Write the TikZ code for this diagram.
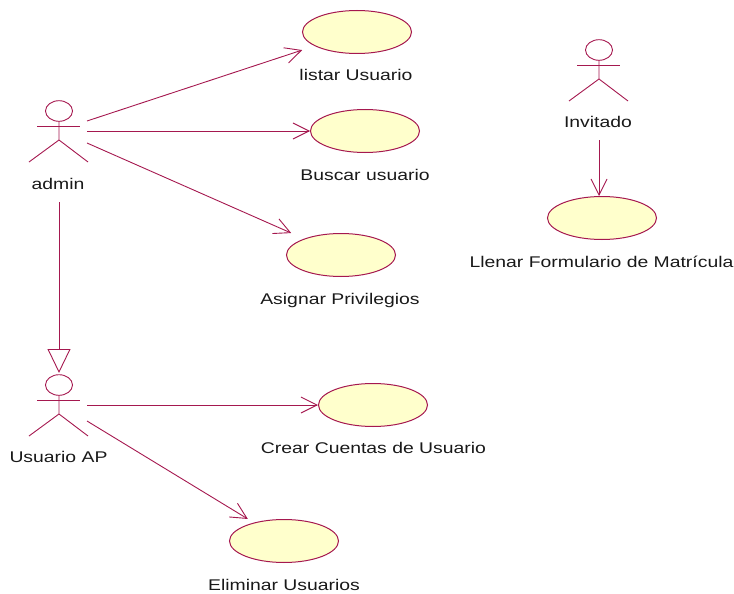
\documentclass[tikz,border=0pt]{standalone}
\usepackage{fontspec}
\setmainfont[FakeStretch=1.25]{Liberation Sans}
\usetikzlibrary{arrows.meta,shapes.geometric}
\definecolor{umlline}{HTML}{A5184F}
\definecolor{umlfill}{HTML}{FFFFCC}
\tikzset{
  usecase/.style={ellipse,draw=umlline,fill=umlfill,line width=1pt,minimum width=109pt,minimum height=43pt,inner sep=0pt},
  lbl/.style={font=\fontsize{15.5pt}{18pt}\selectfont,text=black!90,inner sep=0pt,anchor=base},
  actorbox/.style={rectangle,minimum width=58pt,minimum height=61pt,inner sep=0pt},
  assoc/.style={draw=umlline,line width=0.9pt,-{Straight Barb[length=16pt,width=16pt,line width=0.9pt]}},
  gen/.style={draw=umlline,line width=0.9pt,-{Triangle[open,fill=white,length=24pt,width=23pt,line width=0.9pt]}},
  stick/.style={draw=umlline,line width=0.9pt}
}
\newcommand{\stickman}[1]{%
  \draw[stick] (#1)+(0,-20) ellipse [x radius=13.5,y radius=10.3];
  \draw[stick] (#1)+(-22,-5) -- +(21,-5);
  \draw[stick] (#1)+(0,-10) -- +(0,9) +(-30,31) -- +(0,9) -- +(29,31);
}
\begin{document}
\begin{tikzpicture}[x=1pt,y=-1pt]
\useasboundingbox (0,0) rectangle (734,594);
\node[usecase] (listar) at (357,32) {};
\node[usecase] (buscar) at (365,131) {};
\node[usecase] (asignar) at (341,255) {};
\node[usecase] (crear) at (373,405) {};
\node[usecase] (eliminar) at (284,541) {};
\node[usecase] (llenar) at (602,218) {};
\node[actorbox] (admin) at (59,131) {};
\node[actorbox] (uap) at (59,405) {};
\node[actorbox] (inv) at (599,70) {};
\stickman{admin.center}
\stickman{uap.center}
\stickman{inv.center}
\node[lbl] (ladmin) at (58,189) {admin};
\node[lbl] (luap) at (58.5,462) {Usuario AP};
\node[lbl] (linv) at (598,127) {Invitado};
\node[lbl] (llistar) at (356,81) {listar Usuario};
\node[lbl] (lbuscar) at (365,180) {Buscar usuario};
\node[lbl] (lasignar) at (340,304) {Asignar Privilegios};
\node[lbl] (lcrear) at (373.5,453) {Crear Cuentas de Usuario};
\node[lbl] (leliminar) at (284,590) {Eliminar Usuarios};
\node[lbl] (lllenar) at (601.5,267) {Llenar Formulario de Matrícula};
\coordinate (a1) at (87,121);
\coordinate (a2) at (87,131);
\coordinate (a3) at (87,143);
\coordinate (u1) at (87,405);
\coordinate (u2) at (87,421);
\coordinate (i1) at (599,140);
\coordinate (g1) at (59,202);
\coordinate (g2) at (59,373);
\draw[assoc,shorten >=13pt] (a1) -- (listar);
\draw[assoc] (a2) -- (buscar);
\draw[assoc,shorten >=14pt] (a3) -- (asignar);
\draw[assoc] (u1) -- (crear);
\draw[assoc,shorten >=7pt] (u2) -- (eliminar);
\draw[assoc] (i1) -- (llenar.north -| i1);
\draw[gen] (g1) -- (g2);
\end{tikzpicture}
\end{document}
